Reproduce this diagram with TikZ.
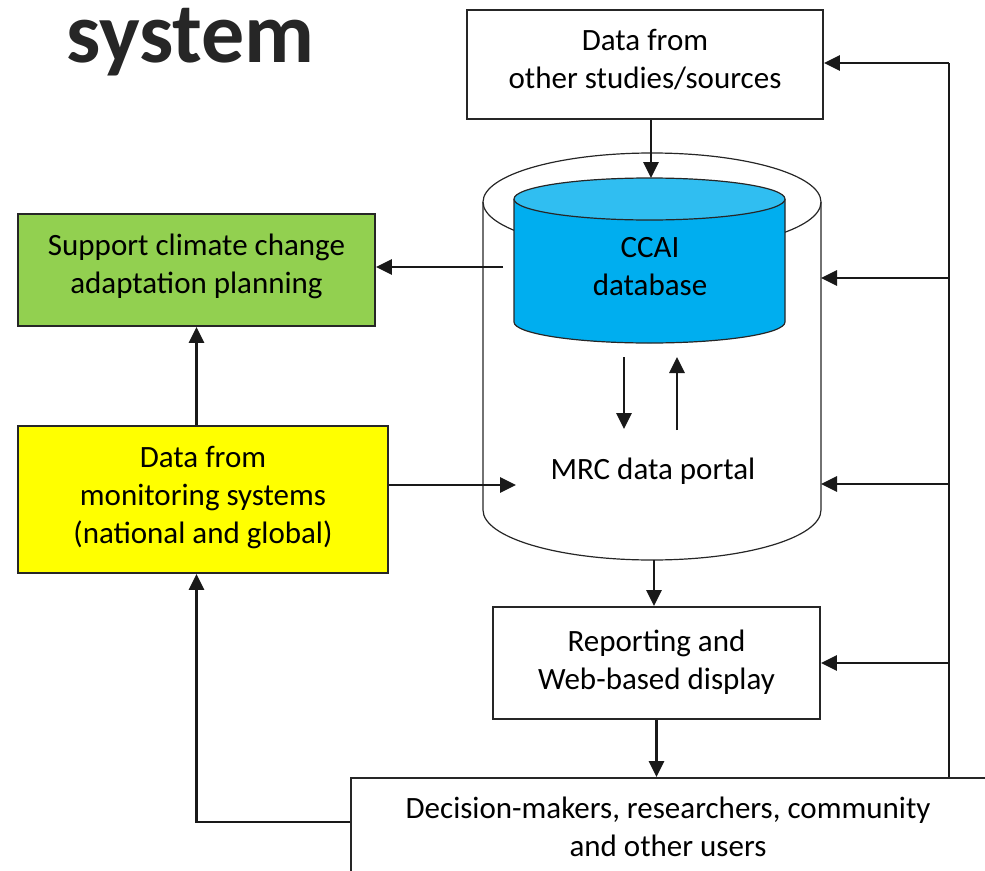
\documentclass[tikz,border=0pt]{standalone}
\usepackage{fontspec}
\setmainfont{Carlito}
\usetikzlibrary{arrows.meta,calc}
\definecolor{boxgreen}{HTML}{92D050}
\definecolor{boxyellow}{HTML}{FFFF00}
\definecolor{cylbody}{HTML}{00AEEF}
\definecolor{cyltop}{HTML}{30BEF1}
\definecolor{titlegray}{HTML}{262626}
\begin{document}
\begin{tikzpicture}[x=1pt,y=-1pt,
  box/.style={draw=black!85, line width=1.8pt, inner sep=0pt},
  txt/.style={inner sep=0pt, align=center, font=\fontsize{31}{38}\selectfont},
  conn/.style={line width=2.7pt, draw=black!90},
  busline/.style={line width=2.2pt, draw=black!90},
  arr/.style={conn, -{Triangle[length=16pt,width=15pt]}},
  cylline/.style={line width=1.2pt, draw=black!85}]
\useasboundingbox (0,0) rectangle (985,870);
% title
\node[anchor=base west, inner sep=0pt, text=titlegray, text height=50pt, text depth=18pt,
  font=\fontsize{86}{92}\selectfont\bfseries] (title) at (66,62) {system};
% boxes
\node[box, minimum width=356pt, minimum height=109pt] (top) at (645,64.5) {};
\node[txt] (toptext) at ([yshift=5pt]top.center) {Data from\\other studies/sources};
\node[box, fill=boxgreen, minimum width=357pt, minimum height=112pt] (green) at (196.5,270) {};
\node[txt] (greentext) at ([yshift=4pt]green.center) {Support climate change\\adaptation planning};
\node[box, fill=boxyellow, minimum width=370pt, minimum height=147pt] (yellow) at (203,499.5) {};
\node[txt] (yellowtext) at ([yshift=2pt]yellow.center) {Data from\\monitoring systems\\(national and global)};
\node[box, minimum width=327pt, minimum height=112pt] (report) at (656.5,663) {};
\node[txt] (reporttext) at ([yshift=1pt]report.center) {Reporting and\\Web-based display};
\node[box, anchor=north west, minimum width=660pt, minimum height=140pt] (users) at (350,777) {};
\node[txt] (userstext) at (668,827) {Decision-makers, researchers, community\\and other users};
% outer cylinder (MRC data portal)
\draw[cylline] (652,202) ellipse [x radius=169pt, y radius=49pt];
\draw[cylline] (483,202) -- (483,510)
  arc[start angle=180, end angle=360, x radius=169pt, y radius=50pt] -- (821,202);
% inner cylinder (CCAI database)
\fill[cylbody] (514,199) -- (514,322)
  arc[start angle=180, end angle=360, x radius=135.5pt, y radius=21pt] -- (785,199) -- cycle;
\draw[cylline] (514,199) -- (514,322)
  arc[start angle=180, end angle=360, x radius=135.5pt, y radius=21pt] -- (785,199);
\filldraw[cylline, fill=cyltop] (649.5,199) ellipse [x radius=135.5pt, y radius=21pt];
\node[txt] (ccai) at (650,267) {CCAI\\database};
\node[txt] (portal) at (653,471) {MRC data portal};
% anchor coordinates
\coordinate (ccaitop) at (651,178);
\coordinate (ccaiL) at (503,267);
\coordinate (portalL) at (516,485);
\coordinate (dnA) at (624,357);
\coordinate (dnB) at (624,429);
\coordinate (upA) at (677,430);
\coordinate (upB) at (677,357);
\coordinate (outerB) at (654,560);
\coordinate (outerR1) at (821,278);
\coordinate (outerR2) at (821,484);
\coordinate (bus) at (949,777);
\coordinate (busT) at (949,63);
\coordinate (usersL) at (350,822);
% connectors
\draw[arr] (top.south -| ccaitop) -- (ccaitop);
\draw[arr] (ccaiL) -- (ccaiL -| green.east);
\draw[arr] (green.south |- yellow.north) -- (green.south);
\draw[arr] (portalL -| yellow.east) -- (portalL);
\draw[arr] (dnA) -- (dnB);
\draw[arr] (upA) -- (upB);
\draw[arr] (outerB) -- (outerB |- report.north);
\draw[arr] (report.south) -- (report.south |- users.north);
\draw[busline] (bus) -- (busT);
\draw[arr] (busT) -- (busT -| top.east);
\draw[arr] (outerR1 -| bus) -- (outerR1);
\draw[arr] (outerR2 -| bus) -- (outerR2);
\draw[arr] (report.east -| bus) -- (report.east);
\draw[arr] (usersL) -| (green.south |- yellow.south);
\end{tikzpicture}
\end{document}
